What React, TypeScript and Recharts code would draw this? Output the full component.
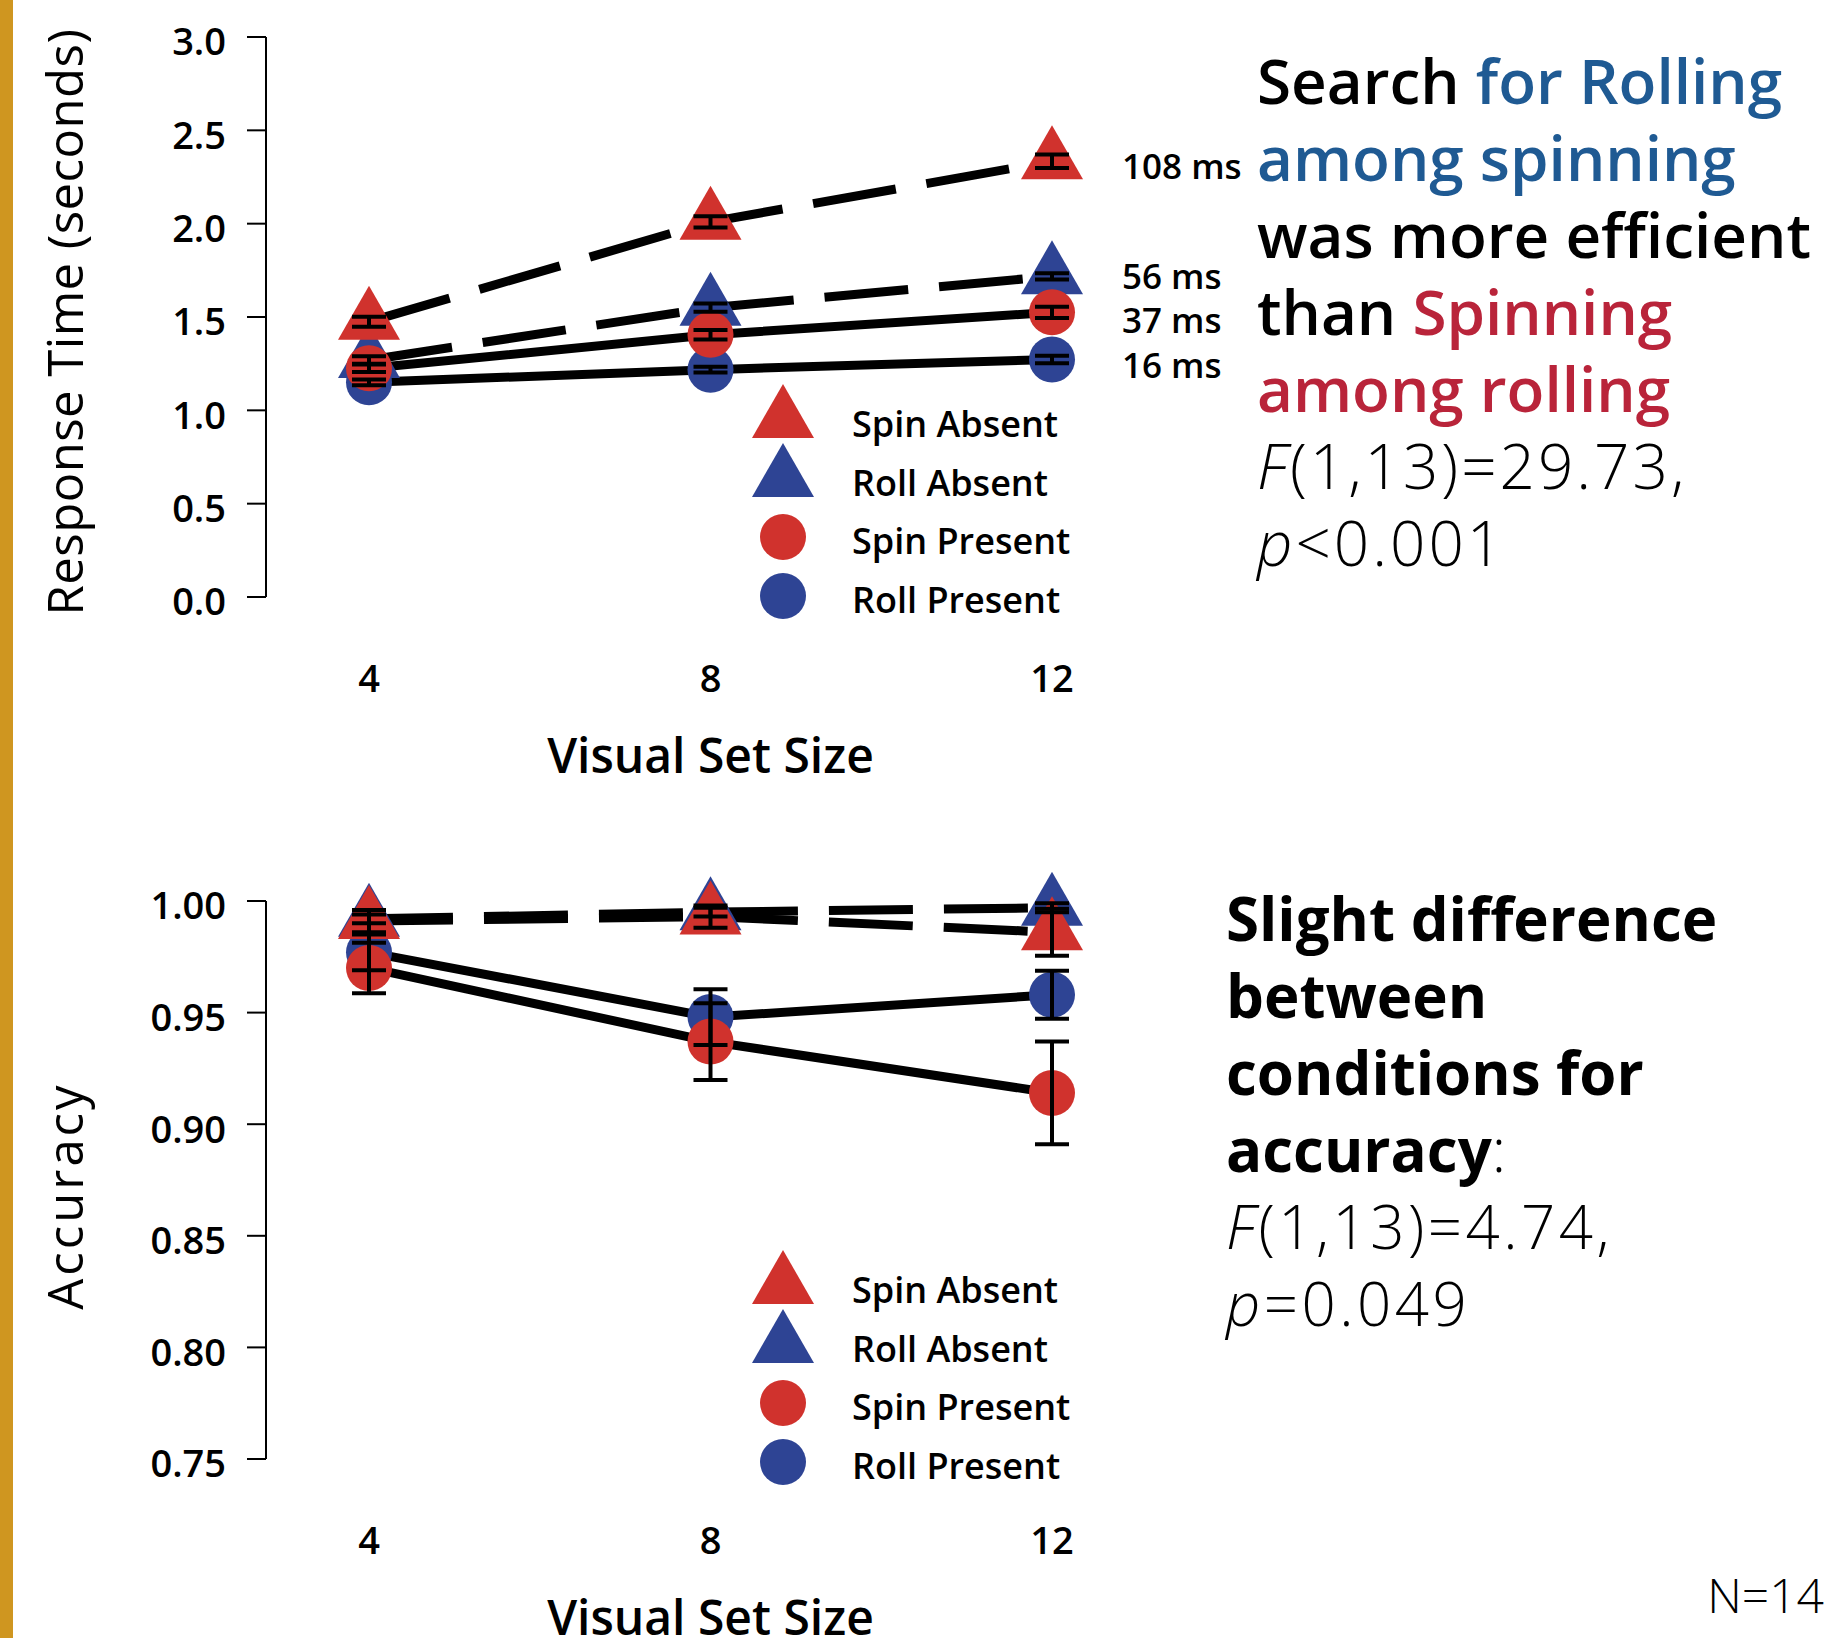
import React from "react";
import {
  LineChart,
  Line,
  XAxis,
  YAxis,
  ErrorBar,
  Legend,
  LabelList,
  Label,
} from "recharts";

const FONT = "'Open Sans', 'DejaVu Sans', sans-serif";
const RED = "#d0322d";
const BLUE = "#2e4494";
const TEXT_BLUE = "#1f5a93";
const TEXT_RED = "#b9243a";
const GOLD = "#cf9620";

// x values
const setSizes = [4, 8, 12];

// response time in seconds (mean and error)
const rtSpinAbsent = [1.475, 2.01, 2.334];
const rtSpinAbsentErr = [0.027, 0.03, 0.036];
const rtRollAbsent = [1.27, 1.55, 1.718];
const rtRollAbsentErr = [0.02, 0.022, 0.017];
const rtSpinPresent = [1.225, 1.405, 1.525];
const rtSpinPresentErr = [0.02, 0.025, 0.03];
const rtRollPresent = [1.15, 1.218, 1.272];
const rtRollPresentErr = [0.015, 0.015, 0.02];
const rtSlopes = ["108 ms", "56 ms", "37 ms", "16 ms"];
const rtSlopeShift = [4, -1, 7, 5];
const rtTicks = [0, 0.5, 1, 1.5, 2, 2.5, 3];

// accuracy (mean and error)
const accSpinAbsent = [0.991, 0.993, 0.986];
const accSpinAbsentErr = [0.005, 0.005, 0.0105];
const accRollAbsent = [0.992, 0.995, 0.997];
const accRollAbsentErr = [0.002, 0.002, 0.002];
const accSpinPresent = [0.97, 0.937, 0.914];
const accSpinPresentErr = [0.0113, 0.0172, 0.023];
const accRollPresent = [0.977, 0.948, 0.958];
const accRollPresentErr = [0.008, 0.0125, 0.0107];
const accTicks = [0.75, 0.8, 0.85, 0.9, 0.95, 1.0];

interface Series {
  key: string;
  name: string;
  color: string;
  shape: "triangle" | "circle";
  dashed: boolean;
}

const seriesList: Series[] = [
  { key: "spinAbsent", name: "Spin Absent", color: RED, shape: "triangle", dashed: true },
  { key: "rollAbsent", name: "Roll Absent", color: BLUE, shape: "triangle", dashed: true },
  { key: "spinPresent", name: "Spin Present", color: RED, shape: "circle", dashed: false },
  { key: "rollPresent", name: "Roll Present", color: BLUE, shape: "circle", dashed: false },
];

// markers drawn later sit on top
const markerOrder = ["rollPresent", "rollAbsent", "spinAbsent", "spinPresent"];

const buildRows = (values: number[][], errors: number[][]) =>
  setSizes.map((size, i) => {
    const row: Record<string, number> = { size };
    seriesList.forEach((s, k) => {
      row[s.key] = values[k][i];
      row[s.key + "Err"] = errors[k][i];
    });
    return row;
  });

const rtRows = buildRows(
  [rtSpinAbsent, rtRollAbsent, rtSpinPresent, rtRollPresent],
  [rtSpinAbsentErr, rtRollAbsentErr, rtSpinPresentErr, rtRollPresentErr]
);
const accRows = buildRows(
  [accSpinAbsent, accRollAbsent, accSpinPresent, accRollPresent],
  [accSpinAbsentErr, accRollAbsentErr, accSpinPresentErr, accRollPresentErr]
);

const Marker = ({ cx, cy, color, shape }: { cx: number; cy: number; color: string; shape: string }) =>
  shape === "triangle" ? (
    <polygon
      points={`${cx},${cy - 36} ${cx + 31},${cy + 18} ${cx - 31},${cy + 18}`}
      fill={color}
    />
  ) : (
    <circle cx={cx} cy={cy} r={23} fill={color} />
  );

const LegendBox = () => (
  <div style={{ fontFamily: FONT, fontSize: 36, fontWeight: 600, color: "#000" }}>
    {seriesList.map((s) => (
      <div key={s.key} style={{ display: "flex", alignItems: "center", height: 58.5 }}>
        <svg width={70} height={58} style={{ overflow: "visible" }}>
          <Marker cx={35} cy={25} color={s.color} shape={s.shape} />
        </svg>
        <span style={{ marginLeft: 34, lineHeight: 1 }}>{s.name}</span>
      </div>
    ))}
  </div>
);

interface PanelProps {
  top: number;
  height: number;
  marginTop: number;
  plotHeight: number;
  rows: Record<string, number>[];
  domain: [number, number];
  ticks: number[];
  digits: number;
  yLabel: string;
  yLabelShift: number;
  yLabelSpacing: number;
  legendTop: number;
  slopes?: string[];
}

const WIDTH = 1300;
const AXIS_W = 266;
const PLOT_W = 889;

const Panel = (p: PanelProps) => {
  const plotBottom = p.marginTop + p.plotHeight;
  const yMid = p.marginTop + p.plotHeight / 2 + p.yLabelShift;
  const xMid = AXIS_W + PLOT_W / 2;

  return (
    <div style={{ position: "absolute", left: 0, top: p.top }}>
      <LineChart
        width={WIDTH}
        height={p.height}
        data={p.rows}
        margin={{ top: p.marginTop, right: WIDTH - AXIS_W - PLOT_W, left: 0, bottom: p.height - plotBottom - 100 }}
      >
        <XAxis
          dataKey="size"
          type="number"
          domain={[4, 12]}
          ticks={setSizes}
          interval={0}
          padding={{ left: 103, right: 103 }}
          axisLine={false}
          tickLine={false}
          tickSize={0}
          tickMargin={68}
          height={100}
          tick={{ fill: "#000", fontSize: 38, fontWeight: 600, fontFamily: FONT }}
        >
          <Label
            content={() => (
              <text
                x={xMid}
                y={plotBottom + 157}
                textAnchor="middle"
                dominantBaseline="central"
                fontSize={48}
                fontWeight={600}
                fontFamily={FONT}
                fill="#000"
              >
                Visual Set Size
              </text>
            )}
          />
        </XAxis>
        <YAxis
          type="number"
          domain={p.domain}
          ticks={p.ticks}
          interval={0}
          width={AXIS_W}
          axisLine={{ stroke: "#000", strokeWidth: 2 }}
          tickLine={{ stroke: "#000", strokeWidth: 2 }}
          tickSize={19}
          tickMargin={21}
          tickFormatter={(v: number) => v.toFixed(p.digits)}
          tick={{ fill: "#000", fontSize: 38, fontWeight: 600, fontFamily: FONT, dy: 5 }}
        >
          <Label
            content={() => (
              <text
                x={64}
                y={yMid}
                transform={`rotate(-90 64 ${yMid})`}
                textAnchor="middle"
                dominantBaseline="central"
                fontSize={49}
                fontWeight={500}
                letterSpacing={p.yLabelSpacing}
                fontFamily={FONT}
                fill="#000"
              >
                {p.yLabel}
              </text>
            )}
          />
        </YAxis>

        {seriesList.map((s, k) => (
          <Line
            key={"line-" + s.key}
            dataKey={s.key}
            type="linear"
            stroke="#000"
            strokeWidth={9}
            strokeDasharray={s.dashed ? "84 31" : undefined}
            dot={false}
            activeDot={false}
            legendType="none"
            isAnimationActive={false}
          >
            {p.slopes && (
              <LabelList
                dataKey={s.key}
                content={(lp: any) =>
                  lp.index === setSizes.length - 1 ? (
                    <text
                      x={Number(lp.x) + 70}
                      y={Number(lp.y) + rtSlopeShift[k]}
                      dominantBaseline="central"
                      fontSize={35}
                      fontWeight={600}
                      fontFamily={FONT}
                      fill="#000"
                    >
                      {p.slopes![k]}
                    </text>
                  ) : null
                }
              />
            )}
          </Line>
        ))}

        {markerOrder.map((key) => {
          const s = seriesList.find((x) => x.key === key)!;
          return (
            <Line
              key={"mark-" + key}
              dataKey={key}
              stroke="none"
              dot={(dp: any) => (
                <Marker key={key + dp.index} cx={dp.cx} cy={dp.cy} color={s.color} shape={s.shape} />
              )}
              activeDot={false}
              legendType="none"
              isAnimationActive={false}
            />
          );
        })}

        {seriesList.map((s) => (
          <Line
            key={"err-" + s.key}
            dataKey={s.key}
            stroke="none"
            dot={false}
            activeDot={false}
            legendType="none"
            isAnimationActive={false}
            zIndex={1500}
          >
            <ErrorBar
              dataKey={s.key + "Err"}
              width={17}
              strokeWidth={4}
              stroke="#000"
              zIndex={1500}
            />
          </Line>
        ))}

        <Legend
          layout="horizontal"
          verticalAlign="middle"
          align="center"
          content={() => <LegendBox />}
          wrapperStyle={{ left: 748, top: p.legendTop, width: 340, height: 240 }}
        />
      </LineChart>
    </div>
  );
};

const bigText: React.CSSProperties = {
  position: "absolute",
  fontFamily: FONT,
  whiteSpace: "nowrap",
  color: "#000",
};

export default function App() {
  return (
    <div
      style={{
        position: "absolute",
        left: 0,
        top: 0,
        width: 1830,
        height: 1638,
        background: "#fff",
        overflow: "hidden",
      }}
    >
      <div style={{ position: "absolute", left: 0, top: 0, width: 13, height: 1638, background: GOLD }} />

      <Panel
        top={0}
        height={800}
        marginTop={37}
        plotHeight={560}
        rows={rtRows}
        domain={[0, 3]}
        ticks={rtTicks}
        digits={1}
        yLabel="Response Time (seconds)"
        yLabelShift={5}
        yLabelSpacing={0.5}
        legendTop={395}
        slopes={rtSlopes}
      />
      <Panel
        top={840}
        height={798}
        marginTop={61}
        plotHeight={558}
        rows={accRows}
        domain={[0.75, 1]}
        ticks={accTicks}
        digits={2}
        yLabel="Accuracy"
        yLabelShift={16}
        yLabelSpacing={3}
        legendTop={421}
      />

      <div style={{ ...bigText, left: 1257, top: 42, fontSize: 62, lineHeight: "77px", fontWeight: 600 }}>
        <div>
          Search <span style={{ color: TEXT_BLUE }}>for Rolling</span>
        </div>
        <div style={{ color: TEXT_BLUE }}>among spinning</div>
        <div>was more efficient</div>
        <div>
          than <span style={{ color: TEXT_RED }}>Spinning</span>
        </div>
        <div style={{ color: TEXT_RED }}>among rolling</div>
        <div style={{ fontWeight: 300, letterSpacing: 3 }}>
          <i>F</i>(1,13)=29.73,
        </div>
        <div style={{ fontWeight: 300, letterSpacing: 3 }}>
          <i>p</i>&lt;0.001
        </div>
      </div>

      <div style={{ ...bigText, left: 1226, top: 880, fontSize: 60, lineHeight: "77px", fontWeight: 700 }}>
        <div>Slight difference</div>
        <div>between</div>
        <div>conditions for</div>
        <div>
          accuracy<span style={{ fontWeight: 300 }}>:</span>
        </div>
        <div style={{ fontWeight: 300, letterSpacing: 3.5 }}>
          <i>F</i>(1,13)=4.74,
        </div>
        <div style={{ fontWeight: 300, letterSpacing: 3.5 }}>
          <i>p</i>=0.049
        </div>
      </div>

      <div style={{ ...bigText, right: 6, top: 1562, fontSize: 48, lineHeight: "65px", fontWeight: 300 }}>
        N=14
      </div>
    </div>
  );
}
